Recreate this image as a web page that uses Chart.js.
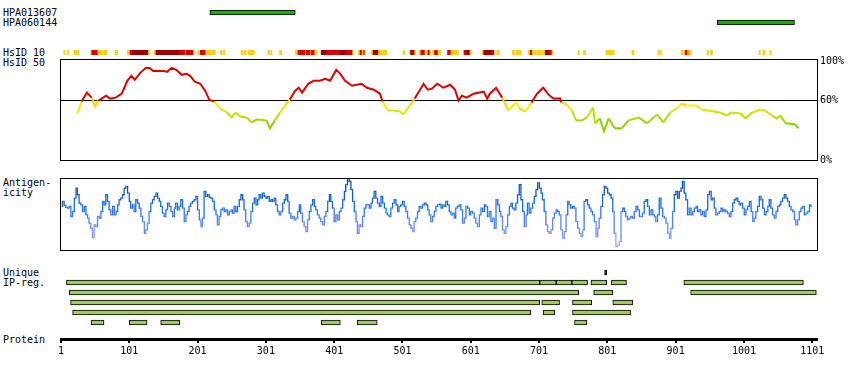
<!DOCTYPE html>
<html><head><meta charset="utf-8">
<script src="https://cdn.jsdelivr.net/npm/chart.js@4.4.1/dist/chart.umd.min.js"></script>
<style>
html,body{margin:0;padding:0;background:#fff;}
#wrap{position:relative;width:850px;height:380px;overflow:hidden;font-family:"DejaVu Sans Mono",monospace;font-size:10px;color:#000;}
#wrap canvas{position:absolute;left:0;}
.lbl{position:absolute;left:3px;line-height:10px;white-space:pre;}
</style></head><body><div id="wrap"></div>
<script>
// ---------- data ----------
const antibodies = ['HPA013607', 'HPA060144'];
const antibodyStart = [219, 962];
const antibodyEnd = [344, 1075];

const hsid10Start = [5,10,20,45,46,55,64,80,98,102,
105,129,137,140,175,183,184,195,201,205,
213,234,239,265,269,275,304,309,321,344,
348,359,360,366,367,373,382,390,409,418,
428,436,439,442,444,446,455,458,466,502,
511,513,517,519,525,528,534,538,541,545,
548,553,567,572,591,594,600,618,620,632,
639,662,667,685,688,691,698,707,710,716,
720,758,766,799,837,875,878,909,913,915,
918,919,920,947,952,1023,1029,1039];
const hsid10End = [7,12,27,46,55,63,68,84,102,105,
129,131,140,175,183,184,195,196,205,213,
227,237,241,267,272,284,307,310,324,348,
359,360,366,367,372,376,390,409,418,428,
429,439,442,443,446,447,458,466,478,504,
513,517,519,520,528,534,536,541,542,548,
553,557,572,583,594,600,602,620,632,635,
643,665,675,688,691,697,706,710,716,720,
721,760,769,811,840,877,880,912,914,918,
919,920,924,949,955,1025,1032,1041];
const hsid10Level = [1,1,1,1,2,1,1,1,1,2,
3,1,1,3,2,1,2,1,1,2,
1,1,1,1,1,1,1,1,1,1,
2,1,2,1,2,1,3,2,3,2,
1,1,2,1,2,1,1,3,1,1,
1,3,2,1,1,2,1,2,1,1,
2,1,2,1,2,3,1,1,3,2,
1,1,1,1,2,1,1,1,3,2,
1,1,1,1,1,1,1,1,1,2,
1,2,1,1,1,1,1,1];

const hsid50Residue = [25,31,39,46,51,56,67,73,81,90,
98,104,109,117,125,131,136,151,156,163,
170,178,185,190,197,205,212,218,226,234,
244,251,257,263,273,280,288,302,307,314,
322,329,336,344,349,354,363,371,380,388,
395,404,410,417,427,441,449,459,468,472,
480,488,498,502,512,519,532,538,544,552,
561,571,578,583,588,595,605,620,625,629,
638,647,656,668,672,681,690,698,707,715,
722,732,734,742,749,755,764,771,780,783,
790,796,803,812,822,832,847,859,874,883,
893,903,910,917,932,939,957,966,976,983,
996,1003,1013,1025,1032,1042,1049,1054,1062,1076,
1081];
const hsid50Value = [47,59,68,63,54,60,65,62,63,67,
80,85,81,88,93,93,90,90,89,93,
91,86,87,85,79,77,70,61,59,52,
48,43,48,44,43,38,41,40,32,40,
48,55,61,70,73,68,77,80,80,82,
80,91,87,80,75,77,73,71,67,59,
50,50,49,46,55,62,77,71,72,77,
73,76,71,60,65,63,67,69,62,67,
73,63,50,59,52,49,58,67,73,66,
62,62,58,56,50,40,40,43,53,37,
42,29,42,32,32,40,43,37,46,38,
48,52,57,55,55,51,49,48,45,48,
47,42,48,51,50,45,42,45,37,36,
32];
const hsid50Ticks = [0, 60, 100];

const antigenResidue = [2,4,7,9,12,14,17,19,22,24,
26,29,31,34,36,39,41,43,46,48,
51,53,56,58,61,63,65,68,70,73,
75,78,80,83,85,87,90,92,95,97,
100,102,104,107,109,112,114,117,119,122,
124,126,129,131,134,136,139,141,144,146,
148,151,153,156,158,161,163,166,168,170,
173,175,178,180,183,185,187,190,192,195,
197,200,202,205,207,209,212,214,217,219,
222,224,227,229,231,234,236,239,241,244,
246,249,251,253,256,258,261,263,266,268,
270,273,275,278,280,283,285,288,290,292,
295,297,300,302,305,307,310,312,314,317,
319,322,324,327,329,332,334,336,339,341,
344,346,349,351,353,356,358,361,363,366,
368,371,373,375,378,380,383,385,388,390,
393,395,397,400,402,405,407,410,412,415,
417,419,422,424,427,429,432,434,436,439,
441,444,446,449,451,454,456,458,461,463,
466,468,471,473,476,478,480,483,485,488,
490,493,495,497,500,502,505,507,510,512,
515,517,519,522,524,527,529,532,534,537,
539,541,544,546,549,551,554,556,559,561,
563,566,568,571,573,576,578,580,583,585,
588,590,593,595,598,600,602,605,607,610,
612,615,617,620,622,624,627,629,632,634,
637,639,642,644,646,649,651,654,656,659,
661,663,666,668,671,673,676,678,681,683,
685,688,690,693,695,698,700,703,705,707,
710,712,715,717,720,722,725,727,729,732,
734,737,739,742,744,746,749,751,754,756,
759,761,764,766,768,771,773,776,778,781,
783,786,788,790,793,795,798,800,803,805,
808,810,812,815,817,820,822,825,827,829,
832,834,837,839,842,844,847,849,851,854,
856,859,861,864,866,869,871,873,876,878,
881,883,886,888,891,893,895,898,900,903,
905,908,910,912,915,917,920,922,925,927,
930,932,934,937,939,942,944,947,949,952,
954,956,959,961,964,966,969,971,973,976,
978,981,983,986,988,991,993,995,998,1000,
1003,1005,1008,1010,1013,1015,1017,1020,1022,1025,
1027,1030,1032,1035,1037,1039,1042,1044,1047,1049,
1052,1054,1056,1059,1061,1064,1066,1069,1071,1074,
1076,1078,1081,1083,1086,1088,1091,1093,1096,1098,
1100];
const antigenValue = [130,145,133,127,125,130,100,115,155,185,
165,140,135,115,130,105,95,80,65,37,
75,70,100,95,115,145,135,165,145,120,
105,130,105,115,135,150,155,165,185,190,
170,145,125,135,115,150,140,125,100,85,
50,60,80,115,140,150,160,170,155,145,
130,110,100,120,140,130,115,100,125,140,
120,130,150,125,85,105,115,130,140,145,
150,160,120,90,70,95,175,160,165,157,
155,145,120,105,75,100,120,125,115,120,
105,115,120,110,130,115,130,150,165,150,
120,85,70,80,115,140,155,135,150,165,
155,170,160,155,160,145,150,145,155,135,
115,105,115,140,150,165,145,110,95,100,
90,95,115,135,110,85,70,55,90,115,
135,150,130,120,105,95,85,75,100,115,
145,165,145,125,85,105,90,115,125,150,
175,195,215,205,180,145,115,85,50,75,
70,100,125,135,135,125,140,155,175,155,
140,130,160,140,125,110,105,100,125,140,
150,135,115,130,135,145,130,115,95,75,
65,55,85,95,115,130,125,135,140,135,
120,105,85,100,115,130,135,137,
125,135,130,145,135,115,105,110,95,125,
130,135,120,80,95,130,125,105,115,110,
95,80,70,105,125,115,135,130,100,115,
85,95,65,150,135,115,100,60,50,70,
105,130,140,125,120,140,165,195,150,115,
70,105,140,110,125,140,160,180,200,185,
170,150,115,75,55,50,60,95,110,120,
115,105,60,35,55,105,145,135,125,130,
125,85,65,50,40,60,145,150,135,125,
115,105,85,40,65,95,130,165,190,185,
170,165,155,115,50,10,15,25,115,125,
115,100,90,95,100,95,115,130,120,100,
100,110,145,150,130,105,120,105,100,85,
105,155,125,100,95,80,50,35,65,115,
165,175,155,175,185,205,170,150,105,125,
105,115,125,130,115,120,105,115,100,120,
165,175,150,155,125,105,110,115,125,115,
120,115,110,100,115,140,150,155,145,135,
140,125,105,120,130,145,115,85,95,115,
130,160,150,125,105,115,130,150,125,105,
95,115,130,135,145,155,165,155,145,130,
120,115,90,75,90,115,125,130,105,110,
115,135,130];

const ipRowNames = ['0', '1', '2', '3', '4', '5'];
const ipRowIndex = [0, 1,1,1,1,1,1,1, 2,2,2, 3,3,3,3, 4,4,4, 5,5,5,5,5,5];
const ipStart = [797, 9,702,726,749,777,807,913, 13,781,923, 15,705,750,809, 18,707,750, 45,101,147,382,435,753];
const ipEnd   = [800, 702,726,749,772,800,829,1088, 759,809,1107, 702,731,778,838, 689,724,835, 64,127,175,410,464,771];

const proteinTicks = [1,101,201,301,401,501,601,701,801,901,1001,1101];
const X_MIN = 1, X_MAX = 1108;

// ---------- setup ----------
const FONT = '"DejaVu Sans Mono", monospace';
Chart.defaults.font.family = FONT;
Chart.defaults.font.size = 10;
Chart.defaults.color = '#000';
Chart.defaults.animation = false;
Chart.defaults.responsive = false;
Chart.defaults.plugins.legend.display = false;
Chart.defaults.plugins.tooltip.enabled = false;

const wrap = document.getElementById('wrap');
function makeCanvas(top, height) {
  const c = document.createElement('canvas');
  c.width = 850; c.height = height;
  c.style.top = top + 'px'; c.style.width = '850px'; c.style.height = height + 'px';
  wrap.appendChild(c);
  return c;
}
function addLabel(text, top) {
  const d = document.createElement('div');
  d.className = 'lbl'; d.textContent = text; d.style.top = top + 'px';
  wrap.appendChild(d);
}
function xHidden() { return { type: 'linear', min: X_MIN, max: X_MAX, display: false }; }
const boxPlugin = {
  id: 'box',
  afterDraw(chart) {
    const a = chart.chartArea, ctx = chart.ctx;
    ctx.save(); ctx.strokeStyle = '#000'; ctx.lineWidth = 1;
    ctx.strokeRect(a.left - 0.5, a.top + 0.5, a.right - a.left + 1, a.bottom - a.top);
    ctx.restore();
  }
};
function blend(c1, c2, t) { return 'rgb(' + c1.map((v, i) => Math.round(v + (c2[i] - v) * t)).join(',') + ')'; }
function hsColor(v) {
  if (v >= 60) return '#dd0000';
  if (v >= 56) return '#ffd200';
  const t = Math.max(0, Math.min(1, (56 - v) / 26));
  return blend([255, 242, 0], [100, 200, 0], t);
}
function agColor(v) {
  if (v >= 130) return blend([26, 108, 232], [6, 68, 158], Math.min(1, (v - 130) / 85));
  return blend([26, 108, 232], [182, 168, 255], Math.min(1, (130 - v) / 120));
}
const levelColors = ['#ffcc22', '#dd0000', '#990000'];

// ---------- side labels ----------
addLabel(antibodies[0], 8);
addLabel(antibodies[1], 18);
addLabel('HsID 10', 48);
addLabel('HsID 50', 58);
addLabel('Antigen-', 178);
addLabel('icity', 188);
addLabel('Unique', 268);
addLabel('IP-reg.', 278);
addLabel('Protein', 335);

// ---------- antibody tracks ----------
new Chart(makeCanvas(7, 21), {
  type: 'bar',
  data: { labels: antibodies, datasets: [{
    data: antibodies.map((a, i) => ({ y: a, x: [antibodyStart[i], antibodyEnd[i]] })),
    backgroundColor: '#22a612', borderColor: '#000', borderWidth: 1, borderSkipped: false, barThickness: 5
  }]},
  options: { indexAxis: 'y', layout: { padding: { left: 61, right: 33, top: 0.5, bottom: 0.5 } },
    scales: { x: xHidden(), y: { type: 'category', display: false } } }
});

// ---------- HsID 10 strip ----------
new Chart(makeCanvas(48, 9), {
  type: 'bar',
  data: { labels: ['HsID 10'], datasets: [{
    data: hsid10Start.map((s, i) => ({ y: 'HsID 10', x: [s, hsid10End[i]] })),
    backgroundColor: hsid10Level.map(l => levelColors[l - 1]),
    borderWidth: 0, barPercentage: 1, categoryPercentage: 1
  }]},
  options: { indexAxis: 'y', layout: { padding: { left: 61, right: 33, top: 2, bottom: 2 } },
    scales: { x: xHidden(), y: { type: 'category', display: false } } }
});

// ---------- HsID 50 profile ----------
new Chart(makeCanvas(50, 125), {
  type: 'line',
  data: { datasets: [{
    data: hsid50Residue.map((r, i) => ({ x: r, y: hsid50Value[i] })),
    borderWidth: 2, pointRadius: 0, tension: 0, borderColor: '#dd0000',
    segment: { borderColor: c => hsColor((c.p0.parsed.y + c.p1.parsed.y) / 2) }
  }]},
  options: { layout: { padding: { left: 61, right: 0, top: 8, bottom: 15 } },
    scales: {
      x: xHidden(),
      y: { position: 'right', min: 0, max: 102,
        afterBuildTicks: s => { s.ticks = hsid50Ticks.map(v => ({ value: v })); },
        afterFit: s => { s.width = 33; },
        ticks: { callback: v => v + '%', padding: 3, color: '#000', font: { family: FONT, size: 10 } },
        grid: { drawTicks: false, lineWidth: 1, color: c => (c.tick && c.tick.value === 60) ? '#000' : 'rgba(0,0,0,0)' },
        border: { display: false } }
    } },
  plugins: [boxPlugin]
});

// ---------- Antigenicity ----------
new Chart(makeCanvas(170, 90), {
  type: 'line',
  data: { datasets: [{
    data: antigenResidue.map((r, i) => ({ x: r, y: antigenValue[i] })),
    borderWidth: 1.3, pointRadius: 0, tension: 0, stepped: 'middle', borderColor: '#1c70eb',
    segment: { borderColor: c => agColor((c.p0.parsed.y + c.p1.parsed.y) / 2) }
  }]},
  options: { layout: { padding: { left: 61, right: 33, top: 8, bottom: 10 } },
    scales: { x: xHidden(), y: { min: 0, max: 215, display: false } } },
  plugins: [boxPlugin]
});

// ---------- Unique IP regions ----------
new Chart(makeCanvas(262, 71), {
  type: 'bar',
  data: { labels: ipRowNames, datasets: [{
    data: ipStart.map((s, i) => ({ y: ipRowNames[ipRowIndex[i]], x: [s, ipEnd[i]] })),
    backgroundColor: ipRowIndex.map(r => r === 0 ? '#000' : '#a2c95f'),
    borderColor: '#000', borderWidth: 1, borderSkipped: false, barThickness: 5
  }]},
  options: { indexAxis: 'y', layout: { padding: { left: 61, right: 33, top: 5.5, bottom: 5.5 } },
    scales: { x: xHidden(), y: { type: 'category', display: false } } }
});

// ---------- Protein axis ----------
new Chart(makeCanvas(320, 40), {
  type: 'scatter',
  data: { datasets: [{ data: [] }] },
  options: { layout: { padding: { left: 61, right: 33, top: 0, bottom: 0 } },
    scales: {
      x: { type: 'linear', min: X_MIN, max: X_MAX, position: 'bottom',
        afterBuildTicks: s => { s.ticks = proteinTicks.map(v => ({ value: v })); },
        afterFit: s => { s.height = 21; },
        ticks: { autoSkip: false, maxRotation: 0, padding: 2, callback: v => String(v), color: '#000', font: { family: FONT, size: 10 } },
        grid: { drawOnChartArea: false, tickLength: 4, tickWidth: 2, tickColor: '#000', color: '#000', lineWidth: 2 },
        border: { display: true, width: 3, color: '#000' } },
      y: { display: false }
    } }
});
</script>
</body></html>
